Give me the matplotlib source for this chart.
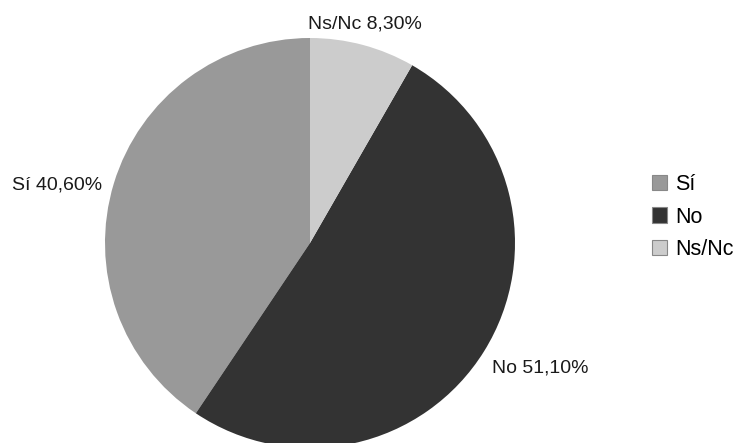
import matplotlib.pyplot as plt
from matplotlib.patches import Patch

plt.rcParams['font.family'] = ['Liberation Sans', 'DejaVu Sans']

categories = ['Sí', 'No', 'Ns/Nc']
values = [40.6, 51.1, 8.3]
colors = ['#999999', '#333333', '#cccccc']
label_pos = [(-1.234, 0.283), (1.122, -0.610), (0.268, 1.068)]

fig = plt.figure(figsize=(7.4, 4.43), dpi=100)
# axes sized so the pie is centred at (310, 243) px with radius 205 px
ax = fig.add_axes([105 / 740, -5 / 443, 410 / 740, 410 / 443])

wedges, _ = ax.pie(values, colors=colors, startangle=90, counterclock=True,
                   radius=1, wedgeprops=dict(linewidth=0))
ax.set_xlim(-1, 1)
ax.set_ylim(-1, 1)
ax.set_aspect('equal')
ax.axis('off')

for cat, v, (x, y) in zip(categories, values, label_pos):
    txt = f"{cat} {v:.2f}%".replace('.', ',')
    ax.text(x, y, txt, ha='center', va='center', fontsize=14,
            color='#1a1a1a', clip_on=False)

handles = [Patch(facecolor=c, edgecolor='#888888', linewidth=0.8) for c in colors]
fig.legend(handles, categories, loc='center left',
           bbox_to_anchor=(641 / 740, 1 - 217 / 443), frameon=False,
           fontsize=15.5, handlelength=0.7, handleheight=0.7,
           handletextpad=0.4, labelspacing=0.55, borderpad=0)

fig.savefig('out.png', dpi=100)
